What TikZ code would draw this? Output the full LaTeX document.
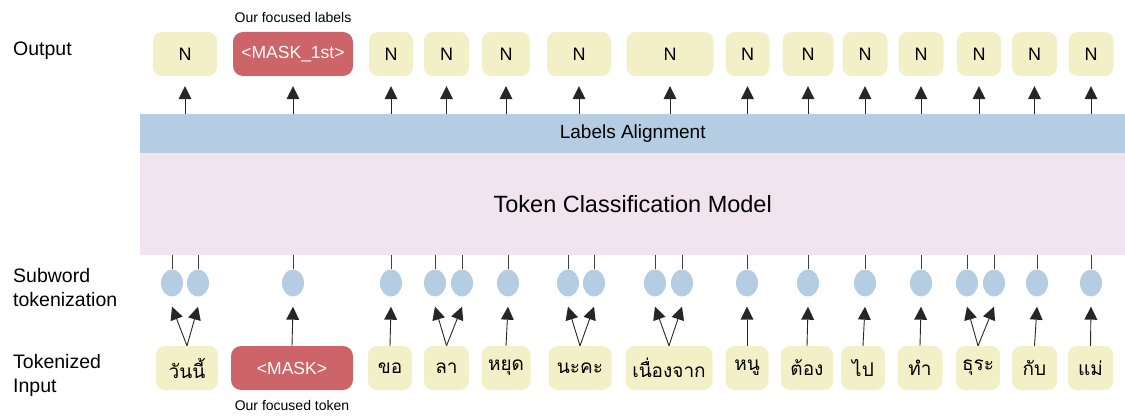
\documentclass[tikz,border=0pt]{standalone}
\usepackage{fontspec}
\setmainfont{Liberation Sans}
\newfontfamily\thaifont[Script=Thai]{Loma}
\usetikzlibrary{shapes.geometric,arrows.meta,calc}
\definecolor{ylw}{HTML}{F3EFC6}
\definecolor{msk}{HTML}{CC6469}
\definecolor{blu}{HTML}{B5CDE2}
\definecolor{pnk}{HTML}{F2E4EE}
\tikzset{
  ybox/.style={rectangle, rounded corners=9pt, fill=ylw, minimum height=44pt, inner sep=0pt, font=\fontsize{18}{20}\selectfont},
  tbox/.style={ybox, font=\thaifont\fontsize{19}{22}\selectfont},
  mbox/.style={rectangle, rounded corners=10pt, fill=msk, text=white, minimum height=44pt, inner sep=0pt, font=\fontsize{17.5}{20}\selectfont},
  sub/.style={ellipse, fill=blu, minimum width=22pt, minimum height=27pt, inner sep=0pt},
  tipstyle/.tip={Triangle[width=13pt,length=13pt,line width=0pt]},
  arr/.style={draw=black!85, line width=0.9pt, -tipstyle},
  ln/.style={draw=black!75, line width=0.9pt},
  side/.style={anchor=west, align=left, inner sep=0pt, font=\fontsize{19.5}{24}\selectfont},
  note/.style={font=\fontsize{14}{16}\selectfont}
}
\begin{document}
\begin{tikzpicture}[x=1pt,y=-1pt]
\useasboundingbox (0,0) rectangle (1125,417);
% bands
\node[rectangle, fill=blu, minimum width=985pt, minimum height=39pt, inner sep=0pt, anchor=north west, font=\fontsize{19}{21}\selectfont] (band) at (140,114) {Labels Alignment};
\node[rectangle, fill=pnk, minimum width=985pt, minimum height=102pt, inner sep=0pt, anchor=north west, font=\fontsize{23.5}{26}\selectfont] (model) at (140,153) {Token Classification Model};
% side labels
\node[side] (lo) at (13,51) {Output};
\node[side] (ls) at (13,288) {Subword\\tokenization};
\node[side] (li) at (13,375) {Tokenized\\Input};
% output boxes
\node[ybox, minimum width=64pt] (o1) at (185,54) {N};
\node[mbox, minimum width=120pt] (o2) at (293,54) {<MASK\_1st>};
\node[ybox, minimum width=44pt] (o3) at (391,54) {N};
\node[ybox, minimum width=45pt] (o4) at (446.5,54) {N};
\node[ybox, minimum width=48pt] (o5) at (506,54) {N};
\node[ybox, minimum width=64pt] (o6) at (579,54) {N};
\node[ybox, minimum width=87pt] (o7) at (670,54) {N};
\node[ybox, minimum width=44pt] (o8) at (747.5,54) {N};
\node[ybox, minimum width=51pt] (o9) at (808,54) {N};
\node[ybox, minimum width=45pt] (o10) at (865,54) {N};
\node[ybox, minimum width=45pt] (o11) at (921,54) {N};
\node[ybox, minimum width=44pt] (o12) at (979,54) {N};
\node[ybox, minimum width=45pt] (o13) at (1034.5,54) {N};
\node[ybox, minimum width=45pt] (o14) at (1091,54) {N};
\node[note] (nl) at (293,17) {Our focused labels};
\foreach \i in {1,...,14}{
  \draw[arr] (o\i.south |- band.north) -- ($(o\i.south)+(0,10)$);
}
% input boxes
\node[tbox, minimum width=62pt] (i1) at (187,368) {วันนี้};
\node[mbox, minimum width=122pt] (i2) at (292,368) {<MASK>};
\node[tbox, minimum width=44pt] (i3) at (390,368) {ขอ};
\node[tbox, minimum width=45pt] (i4) at (446.5,368) {ลา};
\node[tbox, minimum width=49pt] (i5) at (506,368) {หยุด};
\node[tbox, minimum width=63pt] (i6) at (580,368) {นะคะ};
\node[tbox, minimum width=87pt] (i7) at (669,368) {เนื่องจาก};
\node[tbox, minimum width=43pt] (i8) at (747,368) {หนู};
\node[tbox, minimum width=52pt] (i9) at (807,368) {ต้อง};
\node[tbox, minimum width=44pt] (i10) at (863,368) {ไป};
\node[tbox, minimum width=45pt] (i11) at (920,368) {ทำ};
\node[tbox, minimum width=44pt] (i12) at (978,368) {ธุระ};
\node[tbox, minimum width=45pt] (i13) at (1034.5,368) {กับ};
\node[tbox, minimum width=45pt] (i14) at (1090.5,368) {แม่};
\node[note] (nt) at (292,405) {Our focused token};
% subword circles
\foreach \n/\x in {c1/172,c2/198,c3/293,c4/391,c5/435,c6/462,c7/508,c8/568,c9/594,c10/655,c11/682,c12/747,c13/808,c14/865,c15/921,c16/967,c17/994,c18/1037,c19/1091}{
  \node[sub] (\n) at (\x,283) {};
  \draw[ln] (\n.north) -- (\n.north |- model.south);
}
% input to subword arrows
\foreach \b/\c in {i1/c1,i1/c2,i2/c3,i3/c4,i4/c5,i4/c6,i5/c7,i6/c8,i6/c9,i7/c10,i7/c11,i8/c12,i9/c13,i10/c14,i11/c15,i12/c16,i12/c17,i13/c18,i14/c19}{
  \draw[arr] (\b.north) -- ($(\c.south)+(0,10)$);
}
\end{tikzpicture}
\end{document}
